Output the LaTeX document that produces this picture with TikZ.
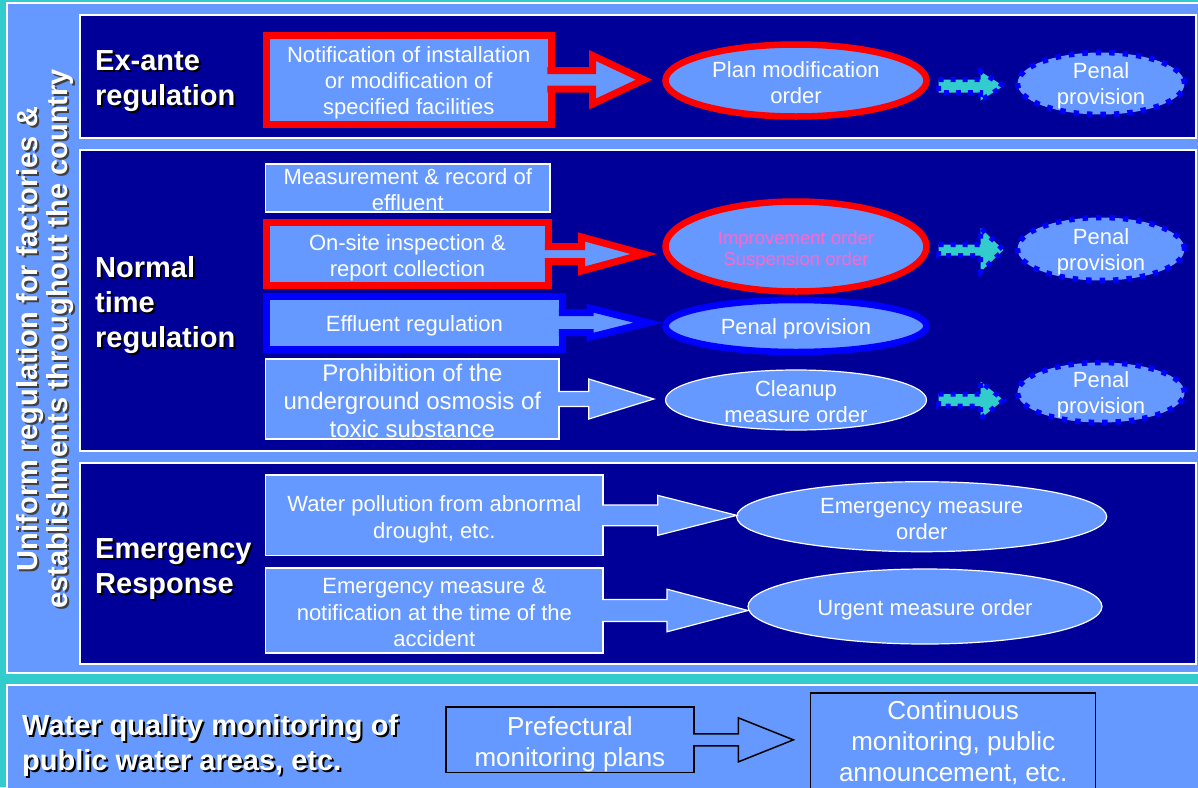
\documentclass[tikz,border=0pt]{standalone}
\usepackage{fontspec}
\setmainfont{Liberation Sans}
\usetikzlibrary{calc,shapes.geometric}
\definecolor{cyanbg}{HTML}{33CCCC}
\definecolor{lblue}{HTML}{6699FF}
\definecolor{navy}{HTML}{000099}
\definecolor{pureblue}{HTML}{0000FF}
\definecolor{pinktxt}{HTML}{FF66CC}
\newcommand\tstrut[1][22pt]{\rule{0pt}{#1}}
% block arrow attached to a box: style, source point, target point, tip gap, shaft half, head length, head half
\newcommand\attarrow[7]{%
  \path[#1] let \p1=(#2), \p2=(#3) in
   (\x1,\y1+#5pt) -- (\x2-#4pt-#6pt,\y1+#5pt) -- (\x2-#4pt-#6pt,\y1+#7pt) -- (\x2-#4pt,\y1)
   -- (\x2-#4pt-#6pt,\y1-#7pt) -- (\x2-#4pt-#6pt,\y1-#5pt) -- (\x1,\y1-#5pt);}
% free block arrow between two nodes: style, source, target, y point, start gap, tip gap, shaft half, head length, head half
\newcommand\dotarrow[9]{%
  \path[#1] let \p1=(#2), \p2=(#3), \p3=(#4) in
   (\x1+#5pt,\y3+#7pt) -- (\x2-#6pt-#8pt,\y3+#7pt) -- (\x2-#6pt-#8pt,\y3+#9pt) -- (\x2-#6pt,\y3)
   -- (\x2-#6pt-#8pt,\y3-#9pt) -- (\x2-#6pt-#8pt,\y3-#7pt) -- (\x1+#5pt,\y3-#7pt) -- cycle;}
\begin{document}
\begin{tikzpicture}[x=1pt,y=-1pt,
  txt/.style={text=white,font=\fontsize{22}{26}\selectfont,align=center,inner sep=0pt,outer sep=0pt,
    execute at begin node={\tstrut}},
  thinbox/.style={txt,rectangle,draw=white,line width=1.2pt,fill=lblue},
  redbox/.style={txt,rectangle,draw=red,line width=7pt,fill=lblue},
  bluebox/.style={txt,rectangle,draw=pureblue,line width=7pt,fill=lblue},
  blackbox/.style={txt,rectangle,draw=black,line width=1.5pt,fill=lblue,font=\fontsize{26}{31}\selectfont},
  thinell/.style={txt,ellipse,inner sep=-14pt,draw=white,line width=1.2pt,fill=lblue},
  redell/.style={txt,ellipse,inner sep=-14pt,draw=red,line width=6.5pt,fill=lblue},
  blueell/.style={txt,ellipse,inner sep=-14pt,draw=pureblue,line width=6.5pt,fill=lblue},
  dotell/.style={txt,ellipse,inner sep=-14pt,draw=pureblue,line width=5.5pt,dash pattern=on 5.5pt off 8pt,fill=lblue},
  head/.style={text=white,font=\fontsize{29}{35}\selectfont\bfseries,align=left,inner sep=0pt,anchor=west},
  headshadow/.style={head,text=black},
  vtitle/.style={text=white,font=\fontsize{29}{30}\selectfont\bfseries,align=center,inner sep=0pt,rotate=90},
  panel/.style={draw=white,line width=1.2pt},
  redarrow/.style={fill=lblue,draw=red,line width=7pt,line join=miter},
  bluearrow/.style={fill=lblue,draw=pureblue,line width=7pt,line join=miter},
  whitearrow/.style={fill=lblue,draw=white,line width=1.2pt,line join=miter},
  blackarrow/.style={fill=lblue,draw=black,line width=1.5pt,line join=miter},
  dotarrowst/.style={fill=cyanbg,draw=pureblue,line width=5pt,dash pattern=on 5pt off 7pt}
]
\useasboundingbox (0,0) rectangle (1198,787);
% backgrounds
\fill[cyanbg] (0,0) rectangle (1198,787);
\filldraw[fill=lblue,panel] (7,3) rectangle (1203,673);
\filldraw[fill=lblue,panel] (7,685) rectangle (1203,792);
\filldraw[fill=navy,panel] (80,15) rectangle (1196,138);
\filldraw[fill=navy,panel] (80,150) rectangle (1196,451);
\filldraw[fill=navy,panel] (80,463) rectangle (1196,664);

% vertical title
\node[vtitle,text=black!75] (titleS) at (47,341) {Uniform regulation for factories \&\\establishments throughout the country};
\node[vtitle] (title) at (45,339) {Uniform regulation for factories \&\\establishments throughout the country};

% headings
\node[headshadow] (exanteS) at (97,83.5) {Ex-ante\\regulation};
\node[head] (exante) at (95,81.5) {Ex-ante\\regulation};
\node[headshadow] (normalS) at (97,307) {Normal\\time\\regulation};
\node[head] (normal) at (95,305) {Normal\\time\\regulation};
\node[headshadow] (emergS) at (97,571) {Emergency\\Response};
\node[head] (emerg) at (95,569) {Emergency\\Response};
\node[headshadow] (wqS) at (24,747.5) {Water quality monitoring of\\public water areas, etc.};
\node[head] (wq) at (22,745.5) {Water quality monitoring of\\public water areas, etc.};

% ex-ante row
\node[redbox,minimum width=284.5pt,minimum height=88.5pt] (n1) at (408.75,79.75) {\tstrut[23pt]Notification of installation\\or modification of\\specified facilities};
\node[redell,minimum width=261pt,minimum height=72pt] (e1) at (796,80.5) {\tstrut[20pt]Plan modification\\order};
\node[dotell,minimum width=167pt,minimum height=62pt] (p1) at (1101,83.5) {\tstrut[21pt]Penal\\provision};

% normal time rows
\node[thinbox,minimum width=284.3pt,minimum height=48pt] (n2) at (407.85,188) {\tstrut[19pt]Measurement \& record of\\effluent};
\node[redbox,minimum width=282pt,minimum height=63pt] (n3) at (407.5,254) {\tstrut[23pt]On-site inspection \&\\report collection};
\node[redell,minimum width=261pt,minimum height=90pt,text=pinktxt,font=\fontsize{18.5}{21.5}\selectfont] (e2) at (796,246.5) {\tstrut[21pt]Improvement order\\Suspension order};
\node[dotell,minimum width=167pt,minimum height=63pt] (p2) at (1101,249) {\tstrut[21pt]Penal\\provision};
\node[bluebox,minimum width=296.3pt,minimum height=53pt] (n4) at (414.35,322.7) {Effluent regulation};
\node[blueell,minimum width=261pt,minimum height=52pt] (e3) at (796,326) {Penal provision};
\node[thinbox,minimum width=293.3pt,minimum height=80pt,font=\fontsize{24}{28}\selectfont] (n5) at (412.35,399) {\tstrut[21pt]Prohibition of the\\underground osmosis of\\toxic substance};
\node[thinell,minimum width=261pt,minimum height=60pt] (e4) at (796,400) {\tstrut[20pt]Cleanup\\measure order};
\node[dotell,minimum width=167pt,minimum height=60pt] (p3) at (1101,392.5) {\tstrut[21pt]Penal\\provision};

% emergency rows
\node[thinbox,minimum width=337.3pt,minimum height=80.7pt,font=\fontsize{22}{27}\selectfont] (m1) at (434.35,515.35) {\tstrut[23pt]Water pollution from abnormal\\drought, etc.};
\node[thinell,minimum width=370pt,minimum height=70pt] (e5) at (921.7,516.7) {\tstrut[19pt]Emergency measure\\order};
\node[thinbox,minimum width=337.3pt,minimum height=85pt,font=\fontsize{22}{26.5}\selectfont] (m2) at (434.35,610.5) {\tstrut[20pt]Emergency measure \&\\notification at the time of the\\accident};
\node[thinell,minimum width=354pt,minimum height=75pt] (e6) at (925,606.5) {Urgent measure order};

% monitoring row
\node[blackbox,minimum width=248.2pt,minimum height=65.7pt] (b1) at (569.9,739.85) {\tstrut[27pt]Prefectural\\monitoring plans};
\node[blackbox,minimum width=285pt,minimum height=99pt] (b2) at (953.2,742.5) {Continuous\\monitoring, public\\announcement, etc.};

% attached block arrows
\attarrow{redarrow}{$(n1.east)+(-3.6,0)$}{e1.west}{21.5}{9.25}{51.5}{24.25}
\attarrow{redarrow}{$(n3.east)+(-3.6,0)$}{e2.west}{21.7}{7.5}{62.3}{17}
\attarrow{bluearrow}{$(n4.east)+(-3.6,0)$}{e3.west}{17.5}{10}{58}{14.5}
\attarrow{whitearrow}{$(n5.east)+(-0.8,0)$}{e4.west}{11.7}{7.5}{65}{20}
\attarrow{whitearrow}{$(m1.east)+(-0.8,0)$}{e5.west}{0}{10.35}{79}{20}
\attarrow{whitearrow}{$(m2.east)+(-0.8,0)$}{e6.west}{0}{11}{81}{21.3}
\attarrow{blackarrow}{$(b1.east)+(-1,0)$}{b2.west}{17.3}{5.9}{55}{22}

% dotted arrows to penal provisions
\dotarrow{dotarrowst}{e1.east}{p1.west}{0,86}{12}{14}{6.5}{23}{14.5}
\dotarrow{dotarrowst}{e2.east}{p2.west}{0,250}{12}{14}{5.5}{23}{22}
\dotarrow{dotarrowst}{e4.east}{p3.west}{0,400}{12}{14}{6}{23}{18.5}
\end{tikzpicture}
\end{document}
